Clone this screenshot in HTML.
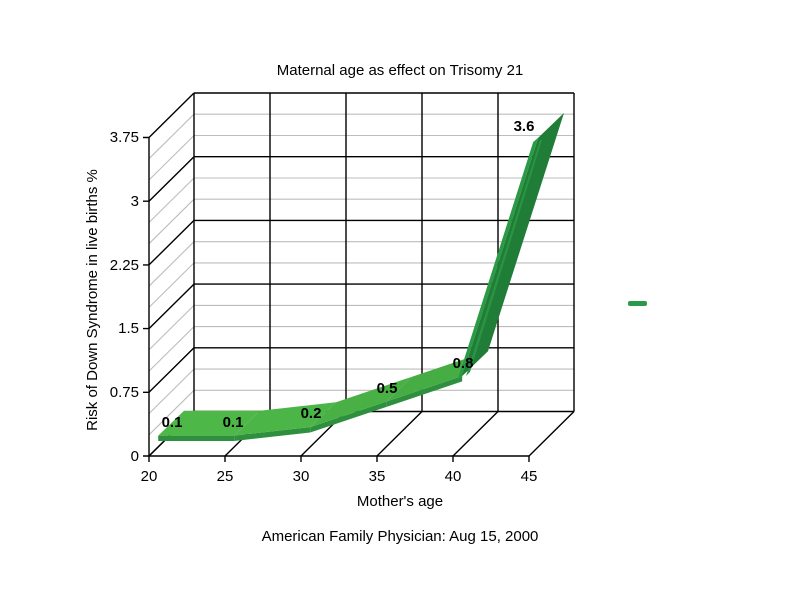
<!DOCTYPE html>
<html><head><meta charset="utf-8"><style>
html,body{margin:0;padding:0;background:#fff;}
svg{display:block;}
text{font-family:"Liberation Sans",Arial,sans-serif;fill:#000;}
</style></head><body>
<svg width="800" height="600" viewBox="0 0 800 600" xmlns="http://www.w3.org/2000/svg">
<rect width="800" height="600" fill="#fff"/>
<g fill="none">
<!-- minor gridlines back wall + side wall -->
<g stroke="#bdbdbd" stroke-width="1.1">
<path d="M194 390.3H574M149 434.8L194 390.3"/>
<path d="M194 369.1H574M149 413.6L194 369.1"/>
<path d="M194 326.6H574M149 371.1L194 326.6"/>
<path d="M194 305.4H574M149 349.9L194 305.4"/>
<path d="M194 262.9H574M149 307.4L194 262.9"/>
<path d="M194 241.7H574M149 286.2L194 241.7"/>
<path d="M194 199.2H574M149 243.7L194 199.2"/>
<path d="M194 178H574M149 222.5L194 178"/>
<path d="M194 135.5H574M149 180L194 135.5"/>
<path d="M194 114.2H574M149 158.7L194 114.2"/>
</g>
<!-- major gridlines -->
<g stroke="#000" stroke-width="1.4">
<path d="M194 411.5H574M149 456L194 411.5"/>
<path d="M194 347.8H574M149 392.3L194 347.8"/>
<path d="M194 284.1H574M149 328.6L194 284.1"/>
<path d="M194 220.4H574M149 264.9L194 220.4"/>
<path d="M194 156.7H574M149 201.2L194 156.7"/>
<path d="M194 93H574M149 137.5L194 93"/>
<path d="M194 93V411.5M270 93V411.5M346 93V411.5M422 93V411.5M498 93V411.5M574 93V411.5"/>
<path d="M149 456L194 411.5M225 456L270 411.5M301 456L346 411.5M377 456L422 411.5M453 456L498 411.5M529 456L574 411.5"/>
<path d="M149 137.5V456H529"/>
<path d="M143 456H149M143 392.3H149M143 328.6H149M143 264.9H149M143 201.2H149M143 137.5H149"/>
<path d="M149 456V462M225 456V462M301 456V462M377 456V462M453 456V462M529 456V462"/>
</g>
</g>

<!-- ribbon -->
<g stroke="none">
<polygon points="158.2,435.6 234.2,435.6 234.2,441 158.2,441" fill="#2e8f3e"/>
<polygon points="158.2,435.6 234.2,435.6 260,410.7 184,410.7" fill="#4db848"/>
<polygon points="234.2,435.6 310.2,427.1 310.2,432.5 234.2,441" fill="#2e8f3e"/>
<polygon points="234.2,435.6 310.2,427.1 336,402.2 260,410.7" fill="#4cb547"/>
<polygon points="310.2,427.1 386.2,401.6 386.2,407 310.2,432.5" fill="#2e8f3e"/>
<polygon points="310.2,427.1 386.2,401.6 412,376.7 336,402.2" fill="#48b045"/>
<polygon points="386.2,401.6 462.2,376 462.2,381.4 386.2,407" fill="#2e8f3e"/>
<polygon points="386.2,401.6 462.2,376 488,351.1 412,376.7" fill="#46ad44"/>
<polygon points="462.2,376 538.2,137.8 533.2,142 457.2,381" fill="#2b9a45"/>
<polygon points="462.2,376 538.2,137.8 564,112.9 488,351.1" fill="#1f7d37"/>
<polygon points="466,376 540,140 542,140 470,372" fill="#2a9443"/>
</g>

<!-- data labels -->
<g font-size="15" font-weight="bold" text-anchor="middle">
<text x="172" y="427">0.1</text>
<text x="233" y="427">0.1</text>
<text x="311" y="418">0.2</text>
<text x="387" y="393">0.5</text>
<text x="463" y="368">0.8</text>
<text x="524" y="131">3.6</text>
</g>

<!-- y tick labels -->
<g font-size="15" text-anchor="end">
<text x="139" y="461">0</text>
<text x="139" y="397">0.75</text>
<text x="139" y="333">1.5</text>
<text x="139" y="270">2.25</text>
<text x="139" y="206">3</text>
<text x="139" y="142">3.75</text>
</g>
<!-- x tick labels -->
<g font-size="15" text-anchor="middle">
<text x="149" y="481">20</text>
<text x="225" y="481">25</text>
<text x="301" y="481">30</text>
<text x="377" y="481">35</text>
<text x="453" y="481">40</text>
<text x="529" y="481">45</text>
</g>

<text x="400" y="75" font-size="15" text-anchor="middle">Maternal age as effect on Trisomy 21</text>
<text x="400" y="506" font-size="15" text-anchor="middle">Mother's age</text>
<text x="400" y="541" font-size="15" text-anchor="middle">American Family Physician: Aug 15, 2000</text>
<text transform="translate(97,300) rotate(-90)" font-size="15" text-anchor="middle">Risk of Down Syndrome in live births %</text>

<!-- legend marker -->
<rect x="628" y="301" width="19" height="5" rx="2" fill="#2a9a4a"/>
</svg>
</body></html>
